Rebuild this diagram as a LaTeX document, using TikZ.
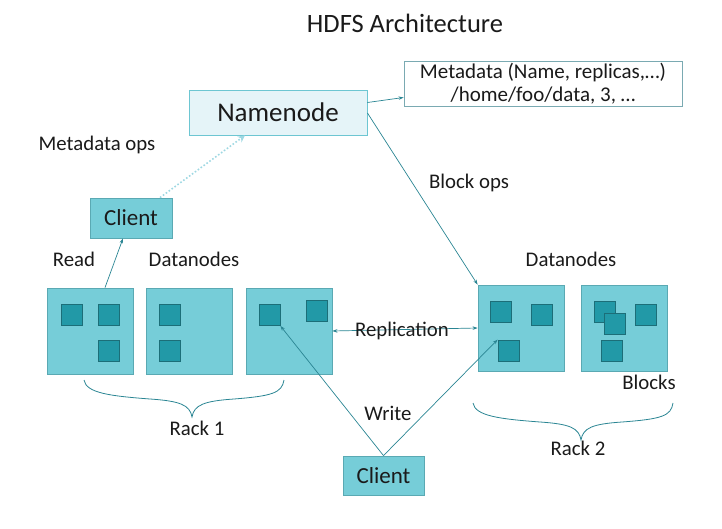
\documentclass[tikz,border=0pt]{standalone}
\usepackage{fontspec}
\setmainfont{Carlito}
\usetikzlibrary{arrows.meta,calc}
\definecolor{nodefill}{HTML}{76CDD8}
\definecolor{nodeedge}{HTML}{5AA9B3}
\definecolor{blockfill}{HTML}{2299A7}
\definecolor{blockedge}{HTML}{1C6E78}
\definecolor{linkcol}{HTML}{2A8593}
\definecolor{namefill}{HTML}{E5F4F8}
\definecolor{nameedge}{HTML}{6DC6D2}
\definecolor{metaedge}{HTML}{7AAAB2}
\definecolor{dotcol}{HTML}{9ED8E2}
\definecolor{txt}{HTML}{1A1A1A}
\tikzset{
  lbl/.style={text=txt, font=\fontsize{20.8}{24}\selectfont, inner sep=0pt},
  dnode/.style={draw=nodeedge, fill=nodefill, line width=0.8pt, minimum width=86pt, minimum height=86pt, inner sep=0pt},
  blk/.style={draw=blockedge, fill=blockfill, line width=0.8pt, minimum width=21pt, minimum height=21pt, inner sep=0pt},
  clientbox/.style={draw=nodeedge, fill=nodefill, line width=0.8pt, text=txt, font=\fontsize{23}{26}\selectfont, inner sep=0pt},
  link/.style={draw=linkcol, line width=0.7pt, -{Stealth[length=5pt,width=3.5pt]}},
  brace/.style={draw=linkcol, line width=0.8pt}
}
\begin{document}
\begin{tikzpicture}[x=1pt,y=-1pt]
\useasboundingbox (0,0) rectangle (722,529);

% title
\node[text=txt, font=\fontsize{26.5}{30}\selectfont] (title) at (405,23) {HDFS Architecture};

% namenode and its metadata
\node[draw=nameedge, fill=namefill, line width=0.9pt, minimum width=178pt, minimum height=45pt, inner sep=0pt,
      text=txt, font=\fontsize{27}{31}\selectfont] (nn) at (278,112.5) {Namenode};
\node[draw=metaedge, line width=0.9pt, minimum width=278pt, minimum height=45pt, inner sep=0pt,
      align=center, text=txt, font=\fontsize{21}{23}\selectfont] (meta) at (543,83.5)
      {Metadata (Name, replicas,…)\\/home/foo/data, 3, …};

% clients
\node[clientbox, minimum width=82pt, minimum height=40pt] (c1) at (131,218) {Client};
\node[clientbox, minimum width=81pt, minimum height=39pt] (c2) at (383.5,475.5) {Client};

% datanodes, rack 1
\node[dnode] (d1) at (90,331) {};
\node[dnode] (d2) at (189,331) {};
\node[dnode] (d3) at (289,331) {};
% datanodes, rack 2
\node[dnode] (d4) at (521,328) {};
\node[dnode] (d5) at (624,328) {};

% blocks
\node[blk] (b11) at (71.5,315) {};
\node[blk] (b12) at (108.5,315) {};
\node[blk] (b13) at (108.5,351) {};
\node[blk] (b21) at (169.5,315) {};
\node[blk] (b22) at (169.5,351) {};
\node[blk] (b31) at (269.5,315) {};
\node[blk] (b32) at (316.5,311) {};
\node[blk] (b41) at (500.5,311.5) {};
\node[blk] (b42) at (541.5,314.5) {};
\node[blk] (b43) at (508.5,350.5) {};
\node[blk] (b51) at (604.5,311.5) {};
\node[blk] (b52) at (614.5,323.5) {};
\node[blk] (b53) at (645.5,314.5) {};
\node[blk] (b54) at (611.5,350.5) {};

% labels
\node[lbl] (lmeta) at (97,145) {Metadata ops};
\node[lbl] (lblock) at (469,183) {Block ops};
\node[lbl] (lread) at (74,259) {Read};
\node[lbl] (ldn1) at (194,259) {Datanodes};
\node[lbl] (ldn2) at (571,259) {Datanodes};
\node[lbl] (lblocks) at (649,382) {Blocks};
\node[lbl] (lwrite) at (388,413) {Write};
\node[lbl] (lrack1) at (197,428) {Rack 1};
\node[lbl] (lrack2) at (578,448) {Rack 2};

% connectors
\draw[link] ($(nn.east)+(0,-10)$) -- ($(meta.west)+(0,14)$);
\draw[link] ($(nn.east)+(0,0.5)$) -- (d4.north west);
\draw[draw=dotcol, line width=1.6pt, dotted, -{Stealth[length=7pt,width=7pt]}]
  ($(c1.north)+(29,0)$) -- ($(nn.south)+(-33,0)$);
\draw[link] ($(d1.north)+(15,0)$) -- ($(c1.south)+(-8,0)$);
\draw[draw=linkcol, line width=0.7pt, {Stealth[length=5pt,width=3.5pt]}-{Stealth[length=5pt,width=3.5pt]}]
  (d3.east) -- (d4.west);
\node[lbl] (lrep) at (402,331) {Replication};
\draw[link] (c2.north) -- (b31.south east);
\draw[link] (c2.north) -- (b43.north west);

% rack braces
\draw[brace] (84,380) .. controls (86,393) and (110,396) .. (150,399)
  .. controls (180,401) and (190,405) .. (192,417)
  .. controls (194,405) and (204,401) .. (234,399)
  .. controls (272,396) and (282,393) .. (284,380);
\draw[brace] (473,403) .. controls (475,416) and (500,419) .. (540,422)
  .. controls (570,424) and (579,428) .. (581,440)
  .. controls (583,428) and (592,424) .. (622,422)
  .. controls (662,419) and (671,416) .. (673,403);
\end{tikzpicture}
\end{document}
